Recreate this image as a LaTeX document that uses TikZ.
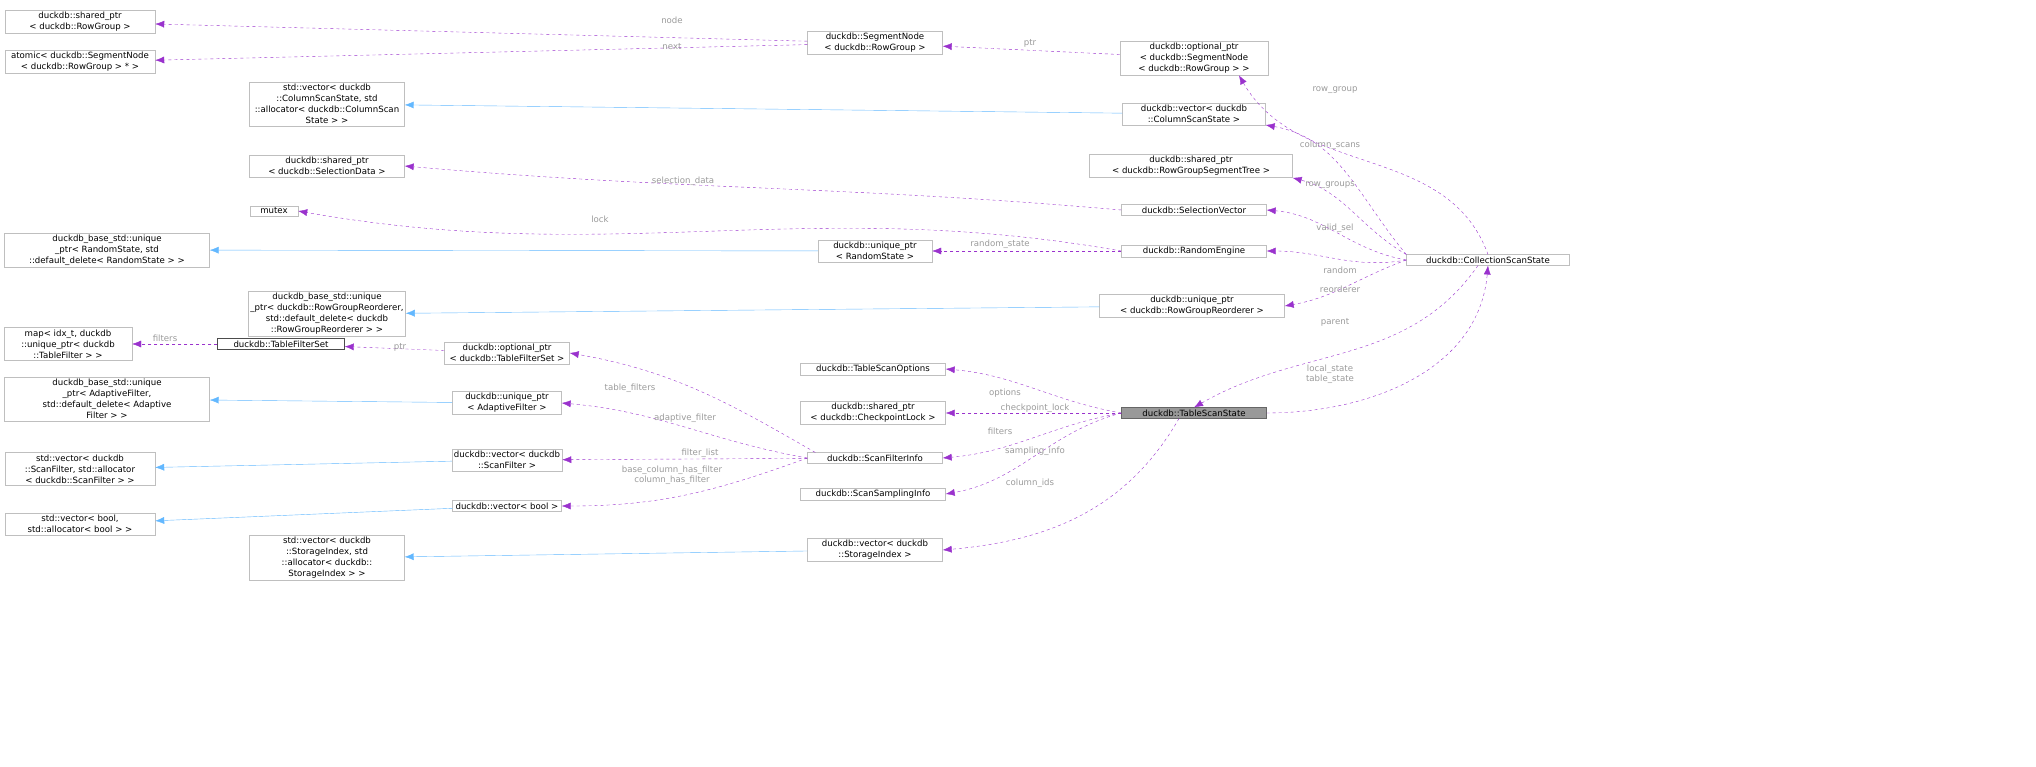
\documentclass[tikz,border=0pt]{standalone}
\usepackage{fontspec}
\setmainfont{DejaVu Sans}
\usetikzlibrary{arrows.meta}
\definecolor{edgepurple}{HTML}{9A32CD}
\definecolor{edgeblue}{HTML}{63B8FF}
\definecolor{boxgray}{HTML}{BFBFBF}
\definecolor{lblgray}{HTML}{9A9A9A}
\begin{document}
\begin{tikzpicture}[
              x = 1pt, y = -1pt,
              box/.style = {draw = boxgray, fill = white, align = center, inner sep = 2pt,
                            font = \fontsize{8.6}{11}\selectfont},
              lbl/.style = {text = lblgray, align = center, inner sep = 0pt,
                            font = \fontsize{8.6}{10}\selectfont},
              member/.style = {draw = edgepurple, dashed, -{Latex[length = 9pt, width = 7pt]}},
              derived/.style = {draw = edgeblue, -{Latex[length = 9pt, width = 7pt]}}
            ]
            \useasboundingbox (0,0) rectangle (2036,767);
            % left column
            \node[box, minimum width = 150] (sprg)    at (80, 22)  {duckdb::shared\_ptr\\< duckdb::RowGroup >};
            \node[box, minimum width = 150] (atomic)  at (80, 62)  {atomic< duckdb::SegmentNode\\< duckdb::RowGroup > * >};
            \node[box, minimum width = 205] (baserst) at (107, 250) {duckdb\_base\_std::unique\\\_ptr< RandomState, std\\::default\_delete< RandomState > >};
            \node[box, minimum width = 128] (map)     at (68, 344) {map< idx\_t, duckdb\\::unique\_ptr< duckdb\\::TableFilter > >};
            \node[box, minimum width = 205] (baseaf)  at (107, 399) {duckdb\_base\_std::unique\\\_ptr< AdaptiveFilter,\\ std::default\_delete< Adaptive\\Filter > >};
            \node[box, minimum width = 150] (stdsf)   at (80, 469) {std::vector< duckdb\\::ScanFilter, std::allocator\\< duckdb::ScanFilter > >};
            \node[box, minimum width = 150] (stdbool) at (80, 524) {std::vector< bool,\\ std::allocator< bool > >};
            % second column
            \node[box, minimum width = 155] (stdcss)  at (327, 104) {std::vector< duckdb\\::ColumnScanState, std\\::allocator< duckdb::ColumnScan\\State > >};
            \node[box, minimum width = 155] (spsel)   at (327, 166) {duckdb::shared\_ptr\\< duckdb::SelectionData >};
            \node[box, minimum width = 48]  (mutex)   at (274, 211) {mutex};
            \node[box, minimum width = 155] (basergr) at (327, 314) {duckdb\_base\_std::unique\\\_ptr< duckdb::RowGroupReorderer,\\ std::default\_delete< duckdb\\::RowGroupReorderer > >};
            \node[box, draw = black!70, minimum width = 127] (tfs) at (281, 344) {duckdb::TableFilterSet};
            \node[box, minimum width = 155] (stdsi)   at (327, 558) {std::vector< duckdb\\::StorageIndex, std\\::allocator< duckdb::\\StorageIndex > >};
            % third column
            \node[box, minimum width = 125] (opttfs)  at (507, 353) {duckdb::optional\_ptr\\< duckdb::TableFilterSet >};
            \node[box, minimum width = 109] (upaf)    at (507, 403) {duckdb::unique\_ptr\\< AdaptiveFilter >};
            \node[box, minimum width = 109] (vecsf)   at (507, 460) {duckdb::vector< duckdb\\::ScanFilter >};
            \node[box, minimum width = 109] (vecbool) at (507, 506) {duckdb::vector< bool >};
            % fourth column
            \node[box, minimum width = 135] (seg)     at (875, 43)  {duckdb::SegmentNode\\< duckdb::RowGroup >};
            \node[box, minimum width = 114] (uprst)   at (875, 251) {duckdb::unique\_ptr\\< RandomState >};
            \node[box, minimum width = 145] (tso)     at (873, 369) {duckdb::TableScanOptions};
            \node[box, minimum width = 145] (spcl)    at (873, 413) {duckdb::shared\_ptr\\< duckdb::CheckpointLock >};
            \node[box, minimum width = 135] (sfi)     at (875, 458) {duckdb::ScanFilterInfo};
            \node[box, minimum width = 145] (ssi)     at (873, 494) {duckdb::ScanSamplingInfo};
            \node[box, minimum width = 135] (vecsi)   at (875, 550) {duckdb::vector< duckdb\\::StorageIndex >};
            % fifth column
            \node[box, minimum width = 148] (optseg)  at (1194, 58)  {duckdb::optional\_ptr\\< duckdb::SegmentNode\\< duckdb::RowGroup > >};
            \node[box, minimum width = 143] (veccss)  at (1194, 114) {duckdb::vector< duckdb\\::ColumnScanState >};
            \node[box, minimum width = 203] (sprgst)  at (1191, 166) {duckdb::shared\_ptr\\< duckdb::RowGroupSegmentTree >};
            \node[box, minimum width = 145] (selvec)  at (1194, 210) {duckdb::SelectionVector};
            \node[box, minimum width = 145] (reng)    at (1194, 251) {duckdb::RandomEngine};
            \node[box, minimum width = 185] (uprgr)   at (1192, 306) {duckdb::unique\_ptr\\< duckdb::RowGroupReorderer >};
            \node[box, draw = black!60, fill = black!40, minimum width = 145] (tss) at (1194, 413) {duckdb::TableScanState};
            \node[box, minimum width = 163] (css)     at (1488, 260) {duckdb::CollectionScanState};
            % inheritance
            \draw[derived] (veccss) -- (stdcss);
            \draw[derived] (uprst) -- (baserst);
            \draw[derived] (uprgr) -- (basergr);
            \draw[derived] (upaf) -- (baseaf);
            \draw[derived] (vecsf) -- (stdsf);
            \draw[derived] (vecbool) -- (stdbool);
            \draw[derived] (vecsi) -- (stdsi);
            % members of the segment node
            \draw[member] (seg) -- (sprg);
            \draw[member] (seg) -- (atomic);
            \draw[member] (optseg) -- (seg);
            \node[lbl] (l-node) at (672, 20) {node};
            \node[lbl] (l-next) at (672, 47) {next};
            \node[lbl] (l-ptr)  at (1030, 43) {ptr};
            % members of the collection scan state
            \draw[member] (css.north) to[out = 110, in = -60] ([xshift = 45]optseg.south);
            \draw[member] (css.north west) to[out = 130, in = -10] (veccss.south east);
            \draw[member] (css.north west) to[out = 150, in = -15] (sprgst.south east);
            \draw[member] (css.west) to[out = 170, in = -5] (selvec.east);
            \draw[member] (css.west) to[out = 190, in = 0] (reng.east);
            \draw[member] (css.west) to[out = 200, in = 10] (uprgr.east);
            \draw[member] ([xshift = -10]css.south) to[out = 235, in = 30] (tss.north);
            \draw[member] (tss.east) to[out = 0, in = -95] (css.south);
            \node[lbl] (l-rowgroup) at (1335, 90)  {row\_group};
            \node[lbl] (l-colscans) at (1330, 145) {column\_scans};
            \node[lbl] (l-rowgroups) at (1330, 185) {row\_groups};
            \node[lbl] (l-validsel) at (1335, 228) {valid\_sel};
            \node[lbl] (l-random)   at (1340, 270) {random};
            \node[lbl] (l-reorder)  at (1340, 289) {reorderer};
            \node[lbl] (l-parent)   at (1335, 322) {parent};
            \node[lbl] (l-state)    at (1330, 374) {local\_state\\table\_state};
            % members of the selection vector and random engine
            \draw[member] (selvec.west) to[out = 175, in = -5] (spsel.east);
            \draw[member] (reng.west) to[out = 170, in = -10] (mutex.east);
            \draw[member] (reng) -- (uprst);
            \node[lbl] (l-seldata) at (683, 181) {selection\_data};
            \node[lbl] (l-lock)    at (600, 219) {lock};
            \node[lbl] (l-rstate)  at (1000, 244) {random\_state};
            % members of the table filter set
            \draw[member] (tfs) -- (map);
            \draw[member] (opttfs) -- (tfs);
            \node[lbl] (l-filters) at (165, 338) {filters};
            \node[lbl] (l-tfsptr)  at (400, 347) {ptr};
            % members of the scan filter info
            \draw[member] ([xshift = 8]sfi.north west) to[out = 150, in = -10] (opttfs.east);
            \draw[member] (sfi.west) to[out = 170, in = -5] (upaf.east);
            \draw[member] (sfi) -- (vecsf);
            \draw[member] (sfi.west) to[out = 200, in = 0] (vecbool.east);
            \node[lbl] (l-tfilters) at (630, 388) {table\_filters};
            \node[lbl] (l-afilter)  at (685, 418) {adaptive\_filter};
            \node[lbl] (l-flist)    at (700, 453) {filter\_list};
            \node[lbl] (l-hasfilt)  at (672, 475) {base\_column\_has\_filter\\column\_has\_filter};
            % members of the table scan state
            \draw[member] (tss.west) to[out = 170, in = -5] (tso.east);
            \draw[member] (tss) -- (spcl);
            \draw[member] (tss.west) to[out = 190, in = 5] (sfi.east);
            \draw[member] (tss.west) to[out = 195, in = 10] (ssi.east);
            \draw[member] ([xshift = -15]tss.south) to[out = 240, in = 5] (vecsi.east);
            \node[lbl] (l-options)  at (1005, 393) {options};
            \node[lbl] (l-cplock)   at (1035, 408) {checkpoint\_lock};
            \node[lbl] (l-sfilters) at (1000, 431) {filters};
            \node[lbl] (l-sampling) at (1035, 451) {sampling\_info};
            \node[lbl] (l-colids)   at (1030, 483) {column\_ids};
          \end{tikzpicture}
\end{document}
